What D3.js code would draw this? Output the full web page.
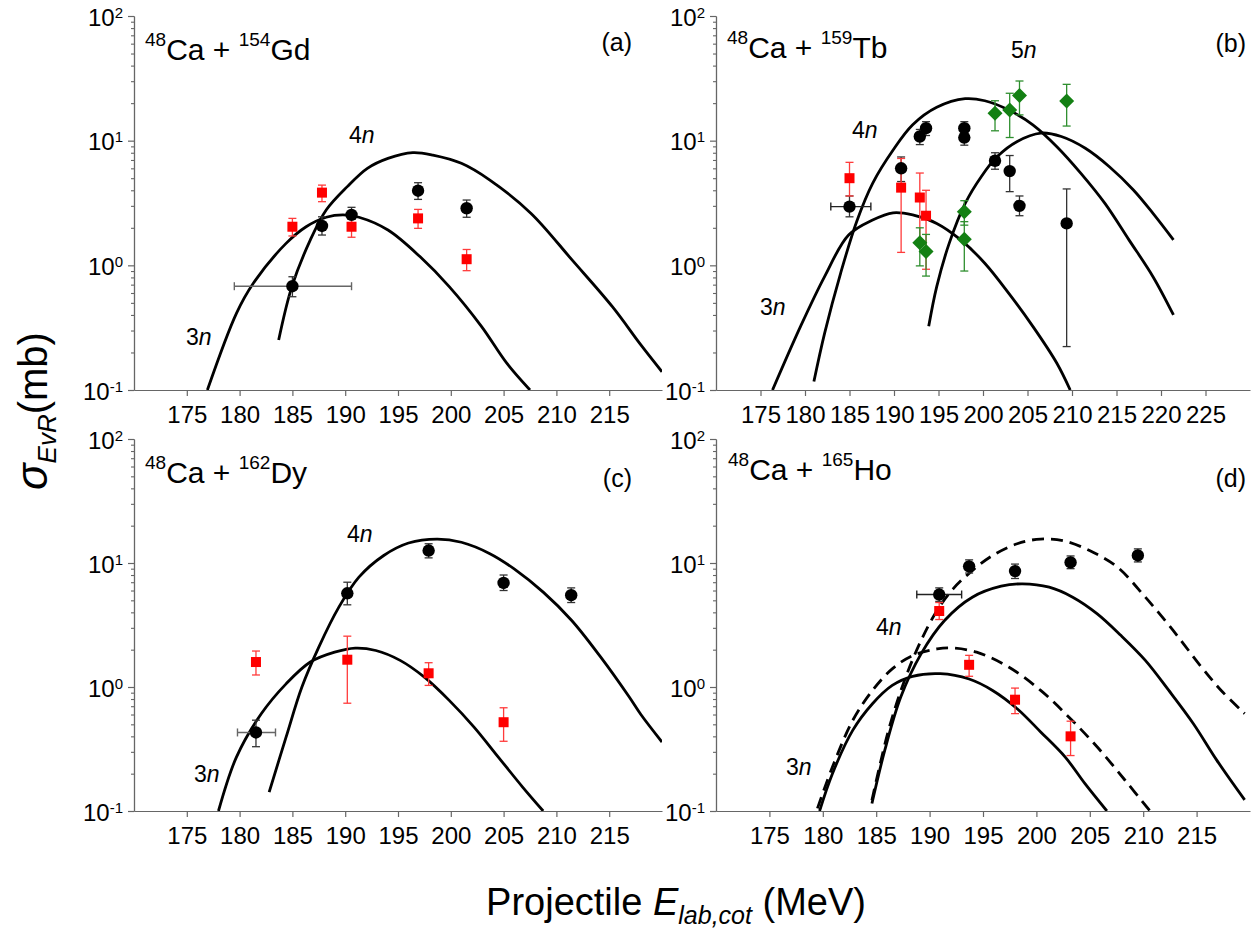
<!DOCTYPE html>
<html><head><meta charset="utf-8">
<script src="https://cdn.jsdelivr.net/npm/d3@7"></script>
<style>
body{margin:0;background:#fff}
svg{display:block}
text{font-family:"Liberation Sans",Arial,Helvetica,sans-serif;fill:#000}
</style>
</head><body>
<svg id="chart" width="1260" height="934"></svg>
<script>
// ---------------- DATA ----------------
const xTicksShort = [175,180,185,190,195,200,205,210,215];
const xTicksLong  = [175,180,185,190,195,200,205,210,215,220,225];
const yMajorTicks = [0.1,1,10,100];
const yMajorExp   = ["-1","0","1","2"];
const yMinorTicks = [0.2,0.3,0.4,0.5,0.6,0.7,0.8,0.9,2,3,4,5,6,7,8,9,20,30,40,50,60,70,80,90];

// (a) 48Ca + 154Gd  : [E, sigma]
const gdCalc3n = [[176.95,0.100],[179.7,0.412],[181.3,0.718],[184.4,1.50],[186.3,2.04],[188.2,2.43],[189.8,2.54],[191.3,2.43],[194.05,1.92],[197.1,1.17],[199.85,0.675],[202.9,0.324],[205.3,0.164],[207.5,0.100]];
const gdCalc4n = [[183.7,0.252],[184.95,0.675],[186.7,1.60],[188.2,2.78],[190.2,4.28],[192.1,6.0],[194.05,7.21],[196.4,8.02],[198.3,7.67],[201.0,6.58],[203.7,4.83],[207.6,2.61],[211.5,1.10],[215.3,0.466],[218.0,0.23],[220.0,0.14]];
// [E, sigma, low, high]
const gdExp4n = [[185.0,0.68,0.56,0.81],[187.8,2.07,1.75,2.45],[190.6,2.54,2.17,2.92],[196.9,3.97,3.38,4.6],[201.5,2.87,2.43,3.34]];
const gdExp3n = [[185.0,2.04,1.72,2.38],[187.8,3.83,3.24,4.4],[190.6,2.04,1.68,2.45],[196.9,2.38,1.98,2.81],[201.5,1.12,0.906,1.34]];
const gdXerr  = [[185.0,0.68,179.5,190.6]];

// (b) 48Ca + 159Tb
const tbCalc3n = [[176.35,0.1],[179.5,0.324],[182.2,0.813],[184.9,1.75],[187.6,2.31],[189.9,2.64],[192.1,2.54],[194.8,2.17],[197.5,1.60],[200.2,1.04],[202.9,0.596],[205.6,0.324],[208.3,0.164],[209.8,0.1]];
const tbCalc4n = [[181.0,0.117],[182.2,0.285],[184.0,0.863],[185.8,2.24],[187.6,4.55],[189.9,8.41],[192.1,13.4],[194.8,18.5],[198.0,21.7],[200.2,20.9],[202.9,17.6],[205.6,13.4],[208.3,8.95],[211.0,5.47],[213.7,3.14],[216.4,1.60],[219.1,0.811],[221.4,0.40]];
const tbCalc5n = [[193.9,0.324],[194.8,0.675],[196.2,1.50],[198.0,3.14],[199.8,5.14],[201.6,7.45],[203.8,9.82],[206.5,11.5],[208.8,10.8],[211.5,8.69],[214.2,6.18],[216.9,4.02],[219.1,2.61],[221.4,1.60]];
const tbExp4n = [[185.0,2.96,2.45,3.6],[190.8,6.0,4.7,7.4],[192.9,10.8,9.3,12.3],[193.6,12.6,11.0,14.2],[197.9,12.6,11.0,14.2],[197.9,10.6,9.2,12.0],[201.35,6.9,5.9,8.0],[203.0,5.7,3.9,7.6],[204.1,3.0,2.5,3.6],[209.4,2.17,0.223,4.1]];
const tbExp3n = [[185.0,5.0,3.6,6.7],[190.8,4.2,1.27,7.2],[192.9,3.5,1.5,5.5],[193.6,2.5,0.93,4.0]];
const tbExp5n = [[192.9,1.52,0.99,2.0],[193.6,1.29,0.82,1.77],[197.9,2.69,2.1,3.3],[197.9,1.62,0.9,2.24],[201.35,16.6,12.0,20.9],[203.0,17.6,10.6,24.0],[204.1,23.0,16.1,30.1],[209.4,20.8,13.1,28.3]];
const tbXerr  = [[185.0,2.96,182.9,187.4]];

// (c) 48Ca + 162Dy
const dyCalc3n = [[178.0,0.1],[179.7,0.272],[182.05,0.608],[184.4,1.06],[186.7,1.59],[189.0,1.91],[190.95,2.06],[192.9,1.97],[195.2,1.64],[197.5,1.20],[199.85,0.780],[202.2,0.475],[204.5,0.272],[206.8,0.156],[208.75,0.1]];
const dyCalc4n = [[182.8,0.142],[184.4,0.394],[185.9,1.0],[187.5,2.10],[189.4,4.41],[191.3,7.69],[193.65,11.5],[196.0,14.5],[198.7,15.6],[201.0,14.7],[203.7,11.9],[206.0,8.97],[208.75,5.82],[211.45,3.44],[214.2,1.74],[216.9,0.83],[218.0,0.6],[220.0,0.36]];
const dyExp4n = [[181.55,0.43,0.33,0.54],[190.2,5.7,4.6,7.0],[197.9,12.6,11.0,14.3],[205.0,6.9,6.0,8.0],[211.4,5.5,4.8,6.3]];
const dyExp3n = [[181.55,1.59,1.25,1.95],[190.2,1.66,0.74,2.57],[197.9,1.29,1.03,1.57],[205.0,0.52,0.365,0.68]];
const dyXerr  = [[181.55,0.43,179.8,183.4]];

// (d) 48Ca + 165Ho
const hoCalc3n  = [[179.7,0.1],[180.9,0.2],[182.8,0.447],[184.65,0.733],[186.5,1.03],[188.4,1.22],[191.0,1.28],[193.7,1.16],[195.9,0.938],[198.2,0.668],[200.4,0.434],[202.7,0.272],[204.55,0.166],[206.6,0.1]];
const hoCalc4n  = [[184.6,0.115],[185.8,0.308],[187.3,0.83],[189.2,1.85],[191.4,3.44],[194.0,5.30],[196.7,6.50],[198.7,6.79],[201.2,6.38],[203.4,5.30],[205.7,3.89],[207.9,2.61],[210.2,1.64],[212.4,0.938],[214.7,0.506],[216.9,0.256],[219.5,0.123]];
const hoCalc3nB = [[179.5,0.105],[180.9,0.226],[182.8,0.537],[184.65,0.938],[186.5,1.40],[188.4,1.79],[190.7,2.03],[192.2,2.06],[194.4,1.91],[197.4,1.45],[200.4,0.938],[203.05,0.571],[205.7,0.328],[208.3,0.177],[210.6,0.101]];
const hoCalc4nB = [[184.6,0.122],[186.15,0.447],[187.65,1.13],[189.2,2.37],[190.7,4.14],[192.2,6.19],[194.0,8.69],[195.9,11.5],[198.2,14.3],[200.4,15.6],[202.7,15.0],[205.3,12.2],[207.6,9.25],[210.2,5.30],[212.8,2.86],[215.45,1.45],[217.3,0.938],[219.5,0.61]];
const hoExp4n = [[190.9,5.57,4.9,6.3],[193.7,9.4,8.3,10.6],[198.0,8.6,7.5,9.8],[203.2,10.1,9.0,11.4],[209.5,11.5,10.2,13.0]];
const hoExp3n = [[190.9,4.1,3.5,4.8],[193.7,1.51,1.22,1.8],[198.0,0.79,0.61,0.98],[203.2,0.40,0.28,0.53]];
const hoXerr  = [[190.9,5.57,188.8,193.0]];

// ---------------- LAYOUT ----------------
const panels = [
  {key:"a", left:134, right:662, top:16, bottom:390, xDomain:[170,220], xTicks:xTicksShort,
   target:"154", el:"Gd", titleX:145, titleY:60, tag:"(a)", tagX:632, tagY:51,
   solid:[gdCalc3n,gdCalc4n], dashed:[],
   black:gdExp4n, red:gdExp3n, green:[], xerr:gdXerr, xerrColor:"#666",
   labels:[["4",349,143],["3",186,345]]},
  {key:"b", left:716, right:1250, top:16, bottom:390, xDomain:[170,230], xTicks:xTicksLong,
   target:"159", el:"Tb", titleX:727, titleY:58, tag:"(b)", tagX:1246, tagY:52,
   solid:[tbCalc3n,tbCalc4n,tbCalc5n], dashed:[],
   black:tbExp4n, red:tbExp3n, green:tbExp5n, xerr:tbXerr, xerrColor:"#222",
   labels:[["4",852,138],["5",1011,58],["3",760,315]]},
  {key:"c", left:134, right:662, top:439, bottom:811, xDomain:[170,220], xTicks:xTicksShort,
   target:"162", el:"Dy", titleX:145, titleY:483, tag:"(c)", tagX:632, tagY:487,
   solid:[dyCalc3n,dyCalc4n], dashed:[],
   black:dyExp4n, red:dyExp3n, green:[], xerr:dyXerr, xerrColor:"#666",
   labels:[["4",347,542],["3",194,782]]},
  {key:"d", left:716, right:1250, top:439, bottom:811, xDomain:[170,220], xTicks:xTicksShort,
   target:"165", el:"Ho", titleX:728, titleY:480, tag:"(d)", tagX:1246, tagY:487,
   solid:[hoCalc3n,hoCalc4n], dashed:[hoCalc3nB,hoCalc4nB],
   black:hoExp4n, red:hoExp3n, green:[], xerr:hoXerr, xerrColor:"#222",
   labels:[["4",876,635],["3",786,775]]}
];

const svg = d3.select("#chart");
const defs = svg.append("defs");
const AXIS = "#666";

function drawPanel(p){
  const x = d3.scaleLinear().domain(p.xDomain).range([p.left,p.right]);
  const y = d3.scaleLog().domain([0.1,100]).range([p.bottom,p.top]);
  const g = svg.append("g");

  defs.append("clipPath").attr("id","clip"+p.key).append("rect")
    .attr("x",p.left).attr("y",p.top-2).attr("width",p.right-p.left).attr("height",p.bottom-p.top+2);

  // x axis
  const xa = g.append("g").attr("transform",`translate(0,${p.bottom})`)
    .call(d3.axisBottom(x).tickValues(p.xTicks).tickSize(6).tickSizeOuter(0).tickPadding(10).tickFormat(d3.format("d")));
  xa.selectAll("path,line").attr("stroke",AXIS).attr("stroke-width",1.2);
  xa.selectAll("text").attr("font-size",24).style("font-family",'"Liberation Sans",Arial,sans-serif').attr("fill","#000");

  // y axis minor
  const ym = g.append("g").attr("transform",`translate(${p.left},0)`)
    .call(d3.axisLeft(y).tickValues(yMinorTicks).tickSize(3).tickSizeOuter(0).tickFormat(""));
  ym.selectAll("path,line").attr("stroke",AXIS).attr("stroke-width",1.1);
  // y axis major
  const yA = g.append("g").attr("transform",`translate(${p.left},0)`)
    .call(d3.axisLeft(y).tickValues(yMajorTicks).tickSize(6).tickSizeOuter(0).tickFormat(""));
  yA.selectAll("path,line").attr("stroke",AXIS).attr("stroke-width",1.2);
  yA.selectAll(".tick text").remove();
  yA.selectAll(".tick").each(function(d,i){
    const t = d3.select(this).append("text").attr("x",-11).attr("y",9)
      .attr("text-anchor","end").attr("font-size",24);
    t.append("tspan").text("10");
    t.append("tspan").attr("font-size",15).attr("dy",-8).text(yMajorExp[i]);
  });

  const plot = g.append("g").attr("clip-path",`url(#clip${p.key})`);
  const line = d3.line().x(d=>x(d[0])).y(d=>y(d[1])).curve(d3.curveCatmullRom.alpha(0.5));

  p.dashed.forEach(c=>{
    plot.append("path").datum(c).attr("d",line).attr("fill","none")
      .attr("stroke","#000").attr("stroke-width",2.8).attr("stroke-dasharray","12,7");
  });
  p.solid.forEach(c=>{
    plot.append("path").datum(c).attr("d",line).attr("fill","none")
      .attr("stroke","#000").attr("stroke-width",2.8);
  });

  // horizontal error bars
  p.xerr.forEach(d=>{
    const yy = y(d[1]);
    plot.append("line").attr("x1",x(d[2])).attr("x2",x(d[3])).attr("y1",yy).attr("y2",yy)
      .attr("stroke",p.xerrColor).attr("stroke-width",1.4);
    [d[2],d[3]].forEach(e=>{
      plot.append("line").attr("x1",x(e)).attr("x2",x(e)).attr("y1",yy-4).attr("y2",yy+4)
        .attr("stroke",p.xerrColor).attr("stroke-width",1.4);
    });
  });

  function errBars(data,color){
    data.forEach(d=>{
      const xx = x(d[0]);
      plot.append("line").attr("x1",xx).attr("x2",xx).attr("y1",y(d[2])).attr("y2",y(d[3]))
        .attr("stroke",color).attr("stroke-width",1.3);
      [d[2],d[3]].forEach(v=>{
        plot.append("line").attr("x1",xx-4).attr("x2",xx+4).attr("y1",y(v)).attr("y2",y(v))
          .attr("stroke",color).attr("stroke-width",1.3);
      });
    });
  }
  errBars(p.black,"#333");
  errBars(p.red,"#ff3b3b");
  errBars(p.green,"#2f8f2f");

  plot.selectAll(".sq").data(p.red).enter().append("rect")
    .attr("x",d=>x(d[0])-5).attr("y",d=>y(d[1])-5).attr("width",10).attr("height",10)
    .attr("fill","#ff0000");
  plot.selectAll(".dm").data(p.green).enter().append("path")
    .attr("d",d=>{const cx=x(d[0]),cy=y(d[1]),r=7.5;return `M${cx},${cy-r}L${cx+r},${cy}L${cx},${cy+r}L${cx-r},${cy}Z`;})
    .attr("fill","#138013");
  plot.selectAll(".ci").data(p.black).enter().append("circle")
    .attr("cx",d=>x(d[0])).attr("cy",d=>y(d[1])).attr("r",6.2).attr("fill","#000");

  // title
  const t = g.append("text").attr("x",p.titleX).attr("y",p.titleY).attr("font-size",30);
  t.append("tspan").attr("font-size",19).attr("dy",-14).text("48");
  t.append("tspan").attr("dy",14).text("Ca + ");
  t.append("tspan").attr("font-size",19).attr("dy",-14).text(p.target);
  t.append("tspan").attr("dy",14).text(p.el);

  g.append("text").attr("x",p.tagX).attr("y",p.tagY).attr("text-anchor","end")
    .attr("font-size",25).text(p.tag);

  p.labels.forEach(l=>{
    const lt = g.append("text").attr("x",l[1]).attr("y",l[2]).attr("font-size",23);
    lt.append("tspan").text(l[0]);
    lt.append("tspan").attr("font-style","italic").text("n");
  });
}
panels.forEach(drawPanel);

// axis titles
const xt = svg.append("text").attr("x",676).attr("y",915).attr("text-anchor","middle").attr("font-size",38);
xt.append("tspan").text("Projectile ");
xt.append("tspan").attr("font-style","italic").text("E");
xt.append("tspan").attr("font-style","italic").attr("font-size",25).attr("dy",9).text("lab,cot");
xt.append("tspan").attr("dy",-9).text(" (MeV)");

const yt = svg.append("text").attr("transform","translate(47,411) rotate(-90)")
  .attr("text-anchor","middle").attr("font-size",40);
yt.append("tspan").attr("font-style","italic").attr("font-size",44).text("σ");
yt.append("tspan").attr("font-style","italic").attr("font-size",26).attr("dy",9).text("EvR");
yt.append("tspan").attr("dy",-9).text("(mb)");
</script>
</body></html>
